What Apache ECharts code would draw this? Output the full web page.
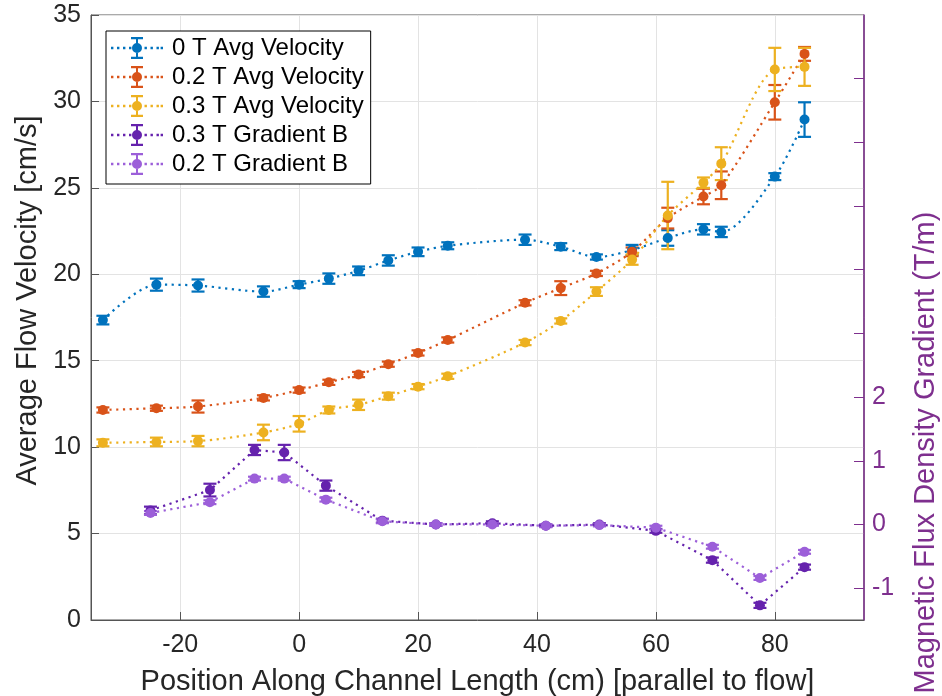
<!DOCTYPE html>
<html>
<head>
<meta charset="utf-8">
<script src="https://cdn.jsdelivr.net/npm/echarts@6/dist/echarts.min.js"></script>
<style>
  html, body { margin: 0; padding: 0; background: #fff; }
  #chart { width: 942px; height: 696px; }
</style>
</head>
<body>
<div id="chart"></div>
<script>
// positions along the channel (cm)
const xVel = [-33, -24, -17, -6, 0, 5, 10, 15, 20, 25, 38, 44, 50, 56, 62, 68, 71, 80, 85]
const xGrad = [-25, -15, -7.5, -2.5, 4.5, 14, 23, 32.5, 41.5, 50.5, 60, 69.5, 77.5, 85]

// average flow velocity (cm/s) and error
const vel0 = [17.35, 19.4, 19.35, 19.0, 19.4, 19.75, 20.2, 20.8, 21.3, 21.65, 22.0, 21.6, 21.0, 21.4, 22.1, 22.6, 22.45, 25.65, 28.95]
const err0 = [0.25, 0.35, 0.35, 0.3, 0.2, 0.3, 0.25, 0.3, 0.25, 0.2, 0.3, 0.2, 0.15, 0.3, 0.45, 0.3, 0.3, 0.2, 1.0]
const vel02 = [12.15, 12.25, 12.35, 12.85, 13.3, 13.75, 14.2, 14.8, 15.45, 16.2, 18.35, 19.2, 20.05, 21.3, 23.25, 24.5, 25.15, 29.95, 32.75]
const err02 = [0.15, 0.15, 0.35, 0.15, 0.15, 0.15, 0.15, 0.15, 0.15, 0.15, 0.15, 0.4, 0.15, 0.25, 0.6, 0.45, 0.8, 1.0, 0.4]
const vel03 = [10.25, 10.3, 10.35, 10.85, 11.35, 12.15, 12.45, 12.95, 13.5, 14.1, 16.05, 17.3, 19.0, 20.85, 23.4, 25.3, 26.4, 31.85, 32.0]
const err03 = [0.2, 0.25, 0.3, 0.45, 0.45, 0.2, 0.3, 0.2, 0.15, 0.15, 0.15, 0.15, 0.25, 0.3, 1.95, 0.3, 0.95, 1.25, 1.1]

// magnetic flux density gradient (T/m) and error
const grad03 = [0.22, 0.54, 1.17, 1.13, 0.61, 0.06, 0.0, 0.02, -0.02, 0.0, -0.1, -0.56, -1.27, -0.67]
const gradErr03 = [0.06, 0.1, 0.08, 0.12, 0.08, 0.03, 0.02, 0.03, 0.02, 0.02, 0.03, 0.04, 0.04, 0.04]
const grad02 = [0.18, 0.35, 0.72, 0.72, 0.39, 0.05, 0.0, 0.0, -0.02, -0.01, -0.05, -0.35, -0.84, -0.43]
const gradErr02 = [0.03, 0.03, 0.03, 0.03, 0.03, 0.03, 0.02, 0.02, 0.02, 0.02, 0.03, 0.03, 0.03, 0.03]

const xTicks = [-20, 0, 20, 40, 60, 80]
const gradTicks = [-1, 0, 1, 2, 3, 4, 5, 6, 7]
const gradLabels = [-1, 0, 1, 2]

const FONT = '"Liberation Sans", Arial, Helvetica, sans-serif'
const PURPLE = '#7E2F8E'

// legend glyph: dotted line, marker and error bar
const dots = [0, 6, 12, 18, 33.5, 39.5, 45.5, 49.6].map(x => `M${x} 9.8h2.4v2.4h-2.4z`).join(' ')
const legendIcon = 'path://' + dots +
  ' M25 0h2v22h-2z M20 0h12v2.2h-12z M20 19.8h12v2.2h-12z M21 11a5 5 0 1 1 10 0a5 5 0 1 1 -10 0z'

const renderErrorBar = (params, api) => {
  const x = api.value(0)
  const y = api.value(1)
  const e = api.value(2)
  const top = api.coord([x, y + e])
  const bot = api.coord([x, y - e])
  const hw = 6.5
  const style = { stroke: api.visual('color'), lineWidth: 2.2 }
  return {
    type: 'group',
    children: [
      { type: 'line', shape: { x1: top[0], y1: top[1], x2: bot[0], y2: bot[1] }, style },
      { type: 'line', shape: { x1: top[0] - hw, y1: top[1], x2: top[0] + hw, y2: top[1] }, style },
      { type: 'line', shape: { x1: bot[0] - hw, y1: bot[1], x2: bot[0] + hw, y2: bot[1] }, style }
    ]
  }
}

const makeSeries = (name, xs, ys, errs, color, axis, smooth) => [
  {
    name,
    type: 'line',
    yAxisIndex: axis,
    data: xs.map((x, i) => [x, ys[i]]),
    smooth,
    symbol: 'circle',
    symbolSize: 10,
    itemStyle: { color, borderWidth: 0 },
    lineStyle: { color, width: 2.2, type: [2.2, 4.5], cap: 'butt' },
    emphasis: { disabled: true },
    z: 3
  },
  {
    name,
    type: 'custom',
    yAxisIndex: axis,
    renderItem: renderErrorBar,
    data: xs.map((x, i) => [x, ys[i], errs[i]]),
    encode: { x: 0, y: 1 },
    itemStyle: { color },
    z: 3
  }
]

const chart = echarts.init(document.getElementById('chart'))

const option = {
  animation: false,
  textStyle: { fontFamily: FONT },
  grid: {
    left: 91,
    right: 78,
    top: 15,
    bottom: 76,
    outerBoundsMode: 'none',
    containLabel: false,
    show: true,
    borderColor: '#555',
    borderWidth: 1,
    backgroundColor: '#fff'
  },
  legend: {
    orient: 'vertical',
    left: 106,
    top: 31,
    itemWidth: 52,
    itemHeight: 22,
    itemGap: 5,
    padding: [5, 7, 8, 5],
    borderColor: '#000',
    borderWidth: 1,
    backgroundColor: '#fff',
    icon: legendIcon,
    itemStyle: { borderWidth: 0 },
    textStyle: { fontSize: 24, color: '#000', fontFamily: FONT, padding: [0, 0, 0, 4] },
    data: ['0 T Avg Velocity', '0.2 T Avg Velocity', '0.3 T Avg Velocity', '0.3 T Gradient B', '0.2 T Gradient B']
  },
  xAxis: {
    type: 'value',
    min: -35,
    max: 95,
    splitNumber: 7,
    name: 'Position Along Channel Length (cm) [parallel to flow]',
    nameLocation: 'middle',
    nameGap: 47,
    nameTextStyle: { fontSize: 29, color: '#262626', fontFamily: FONT },
    axisLine: { onZero: false, lineStyle: { color: '#555', width: 1 } },
    axisTick: { inside: true, length: 8, customValues: xTicks, lineStyle: { color: '#555' } },
    axisLabel: { customValues: xTicks, fontSize: 25, color: '#262626', margin: 13, fontFamily: FONT },
    splitLine: { show: true, lineStyle: { color: '#e3e3e3', width: 1 } }
  },
  yAxis: [
    {
      type: 'value',
      min: 0,
      max: 35,
      interval: 5,
      name: 'Average Flow Velocity [cm/s]',
      nameLocation: 'middle',
      nameRotate: 90,
      nameGap: 47,
      nameTextStyle: { fontSize: 29, color: '#262626', fontFamily: FONT, padding: [0, 0, 0, 34] },
      axisLine: { show: true, onZero: false, lineStyle: { color: '#555', width: 1 } },
      axisTick: { show: true, inside: true, length: 8, lineStyle: { color: '#555' } },
      axisLabel: { fontSize: 25, color: '#262626', margin: 10, fontFamily: FONT },
      splitLine: { show: true, lineStyle: { color: '#e3e3e3', width: 1 } }
    },
    {
      type: 'value',
      position: 'right',
      min: -1.5,
      max: 8,
      name: 'Magnetic Flux Density Gradient (T/m)',
      nameLocation: 'middle',
      nameRotate: 90,
      nameGap: 47,
      nameTextStyle: { fontSize: 29, color: PURPLE, fontFamily: FONT, padding: [0, 270, 0, 0] },
      axisLine: { show: true, onZero: false, lineStyle: { color: PURPLE, width: 1.5 } },
      axisTick: { show: true, inside: true, length: 10, customValues: gradTicks, lineStyle: { color: PURPLE } },
      axisLabel: { customValues: gradLabels, fontSize: 25, color: PURPLE, margin: 8, fontFamily: FONT },
      splitLine: { show: false }
    }
  ],
  series: [
    ...makeSeries('0 T Avg Velocity', xVel, vel0, err0, '#0072BD', 0, 0.3),
    ...makeSeries('0.2 T Avg Velocity', xVel, vel02, err02, '#D95319', 0, 0.3),
    ...makeSeries('0.3 T Avg Velocity', xVel, vel03, err03, '#EDB120', 0, 0.3),
    ...makeSeries('0.3 T Gradient B', xGrad, grad03, gradErr03, '#6522AD', 1, false),
    ...makeSeries('0.2 T Gradient B', xGrad, grad02, gradErr02, '#9C5FD9', 1, false)
  ]
}

chart.setOption(option)
</script>
</body>
</html>
